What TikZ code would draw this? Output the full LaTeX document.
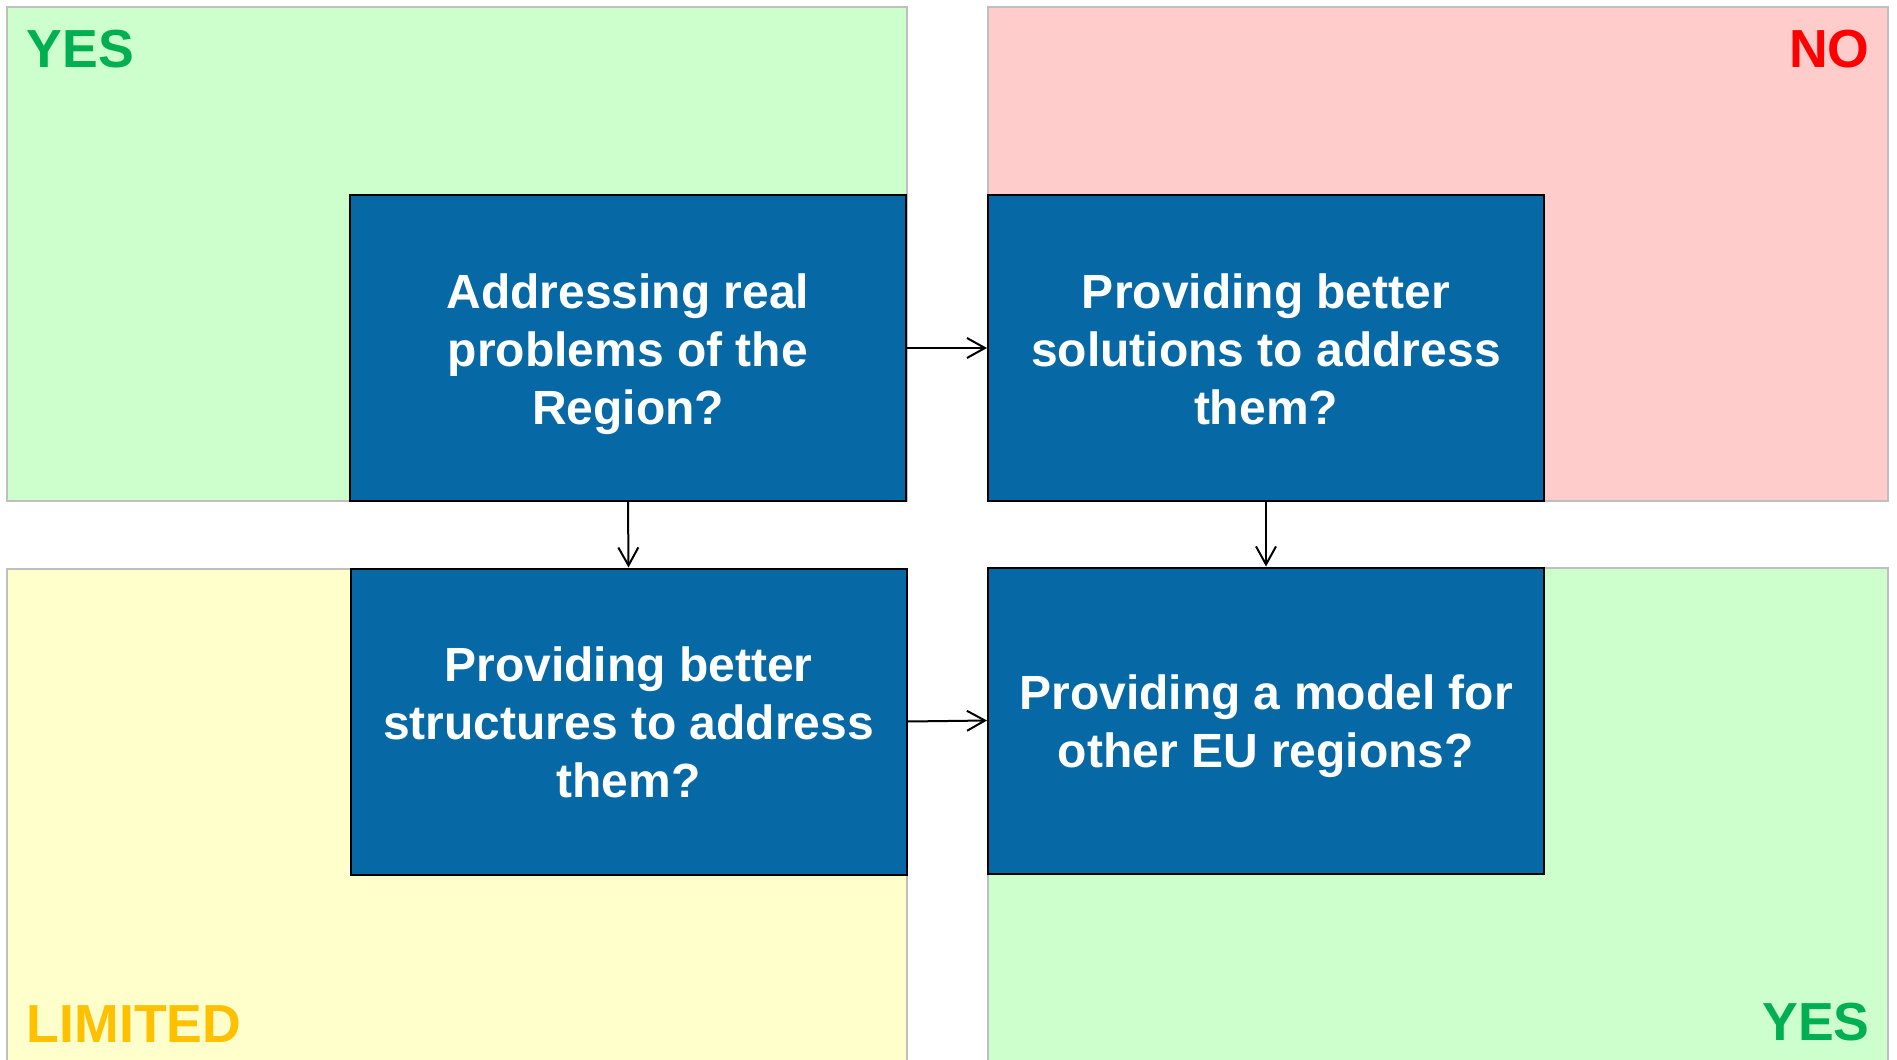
\documentclass[tikz,border=0pt]{standalone}
\usepackage{fontspec}
\setmainfont{Liberation Sans}
\usetikzlibrary{arrows.meta}
\definecolor{paleGreen}{HTML}{CCFFCC}
\definecolor{paleRed}{HTML}{FFCCCC}
\definecolor{paleYellow}{HTML}{FFFFCC}
\definecolor{frameGrey}{HTML}{BFBFBF}
\definecolor{boxBlue}{HTML}{0669A5}
\definecolor{yesGreen}{HTML}{00B050}
\definecolor{noRed}{HTML}{FF0000}
\definecolor{limAmber}{HTML}{FFC000}
% uniform line box so every text block centres the same way
\newcommand\lnbox{\rule[-5.3pt]{0pt}{29pt}}
\tikzset{
  quadframe/.style={draw=frameGrey, line width=0.8pt},
  qbox/.style={draw=black, line width=1pt, fill=boxBlue, text=white,
    minimum width=278pt, minimum height=153pt, inner sep=0pt, align=center,
    font=\fontsize{24pt}{29pt}\selectfont\bfseries},
  verdict/.style={inner sep=0pt, font=\fontsize{26.8pt}{32pt}\selectfont\bfseries},
  flow/.style={draw=black, line width=1pt, -{Straight Barb[length=9pt,width=10pt,line width=1pt]}}
}
\begin{document}
\begin{tikzpicture}[x=0.5pt,y=-0.5pt]
\useasboundingbox (0,0) rectangle (1897,1060);
\fill[white] (0,0) rectangle (1897,1060);

% four verdict panels
\fill[paleGreen] (7,7) rectangle (907,501);
\draw[quadframe] (7,7) rectangle (907,501);
\fill[paleRed] (988,7) rectangle (1888,501);
\draw[quadframe] (988,7) rectangle (1888,501);
\fill[paleYellow] (7,569) rectangle (907,1060);
\draw[quadframe] (7,1060) -- (7,569) -- (907,569) -- (907,1060);
\fill[paleGreen] (988,568) rectangle (1888,1060);
\draw[quadframe] (988,1060) -- (988,568) -- (1888,568) -- (1888,1060);

% panel verdicts
\node[verdict, text=yesGreen, anchor=base west] (vTL) at (26.5,68) {YES};
\node[verdict, text=noRed, anchor=base east] (vTR) at (1870,68) {NO};
\node[verdict, text=limAmber, anchor=base west] (vBL) at (26.5,1042) {LIMITED};
\node[verdict, text=yesGreen, anchor=base east] (vBR) at (1870,1040) {YES};

% question boxes
\node[qbox] (q1) at (628,348) {\lnbox Addressing real\\\lnbox problems of the\\\lnbox Region?};
\node[qbox] (q2) at (1266,348) {\lnbox Providing better\\\lnbox solutions to address\\\lnbox them?};
\node[qbox] (q3) at (628.5,721.5) {\lnbox Providing better\\\lnbox structures to address\\\lnbox them?};
\node[qbox] (q4) at (1266,720.5) {\lnbox Providing a model for\\\lnbox other EU regions?};

% connectors
\draw[flow] (q1.east) -- (q2.west);
\draw[flow] (q1.south) -- (q3.north);
\draw[flow] (q2.south) -- (q4.north);
\draw[flow] (q3.east) -- (q4.west);
\end{tikzpicture}
\end{document}
